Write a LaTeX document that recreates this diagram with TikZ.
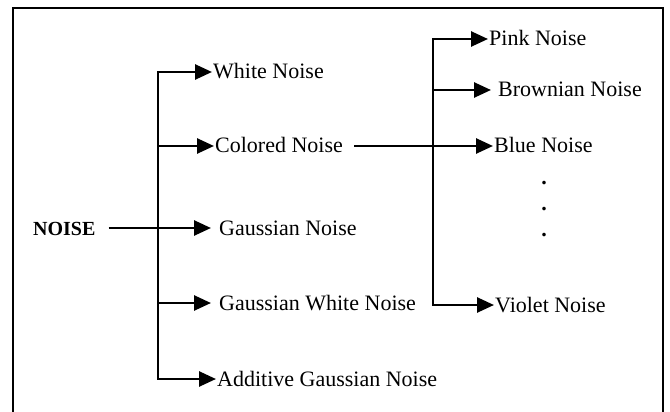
\documentclass[tikz,border=0pt]{standalone}
\usepackage{fontspec}
\setmainfont{Liberation Serif}
\usetikzlibrary{arrows.meta}

\tikzset{
  every node/.style={anchor=west, inner sep=1pt, text height=14pt, text depth=0pt, font=\fontsize{22}{26}\selectfont},
  branch/.style={line width=2.6pt, -{Triangle[length=17pt, width=15pt]}},
  fork/.style={line width=2.6pt, {Triangle[length=17pt, width=15pt]}-{Triangle[length=17pt, width=15pt]}},
}

\begin{document}
\begin{tikzpicture}[x=1pt, y=-1pt]
  \useasboundingbox (0,0) rectangle (670,412);
  % Frame (open at the bottom)
  \draw[line width=2.4pt] (13,413) -- (13,8) -- (663,8) -- (663,413);

  % Root
  \node[font=\bfseries\fontsize{20}{24}\selectfont] (noise) at (32,228) {NOISE};

  % First level
  \node (white)    at (212,72)  {White Noise};
  \node (colored)  at (214,146) {Colored Noise};
  \node (gauss)    at (218,228) {Gaussian Noise};
  \node (gwhite)   at (218,303) {Gaussian White Noise};
  \node (additive) at (216,379) {Additive Gaussian Noise};

  % Second level
  \node (pink)     at (488,39)  {Pink Noise};
  \node (brownian) at (497,90)  {Brownian Noise};
  \node (blue)     at (493,146) {Blue Noise};
  \node (violet)   at (494,305) {Violet Noise};
  \node[anchor=base, font=\bfseries\fontsize{22}{26}\selectfont] (d1) at (544,184) {.};
  \node[anchor=base, font=\bfseries\fontsize{22}{26}\selectfont] (d2) at (544,210) {.};
  \node[anchor=base, font=\bfseries\fontsize{22}{26}\selectfont] (d3) at (544,236) {.};

  % Trunks
  \coordinate (ta) at (158,0);
  \coordinate (tb) at (433,0);

  % Edges from root and its trunk
  \draw[line width=2.6pt, shorten <=12pt] (noise.east) -- (ta |- noise.west);
  \draw[fork] (white.west) -- (ta |- white.west) -- (ta |- additive.west) -- (additive.west);
  \draw[branch] (ta |- colored.west) -- (colored);
  \draw[branch, shorten >=7pt] (ta |- gauss.west) -- (gauss);
  \draw[branch, shorten >=7pt] (ta |- gwhite.west) -- (gwhite);

  % Edges of the colored branch
  \draw[branch, shorten <=10pt] (colored.east) -- (blue);
  \draw[fork] (pink.west) -- (tb |- pink.west) -- (tb |- violet.west) -- (violet.west);
  \draw[branch, shorten >=6pt] (tb |- brownian.west) -- (brownian);
\end{tikzpicture}
\end{document}
